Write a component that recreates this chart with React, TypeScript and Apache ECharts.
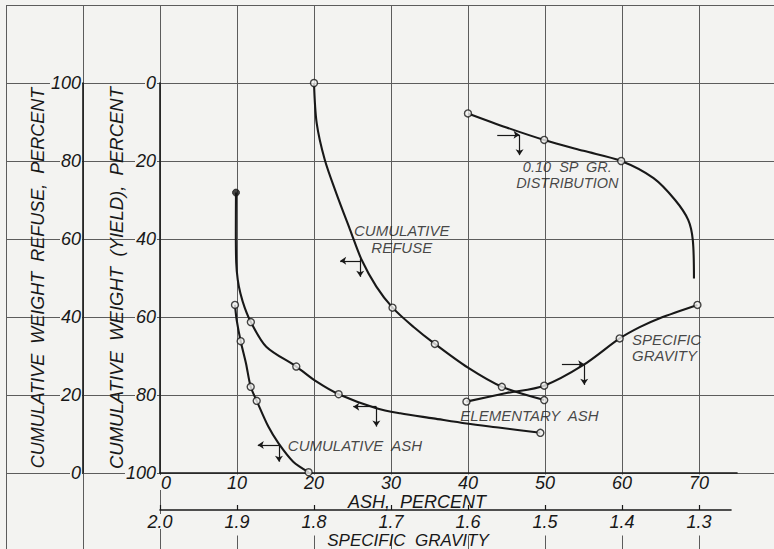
import React, { useEffect, useRef } from 'react';
import * as echarts from 'echarts';

// ---- tick labels ----
const ashTicks = [0, 10, 20, 30, 40, 50, 60, 70];
const sgTicks = [2.0, 1.9, 1.8, 1.7, 1.6, 1.5, 1.4, 1.3];

// ---- cumulative refuse (ash %, refuse %) ----
const refuseCurveAsh = [20.0, 20.35, 21.4, 22.9, 24.7, 26.2, 28.1, 30.2, 32.9, 35.7, 40.0, 44.4, 49.9];
const refuseCurveRefuse = [100, 89.7, 80.3, 71.7, 62.3, 54.6, 47.8, 42.4, 37.5, 33.1, 27.0, 22.1, 18.7];
const refusePointAsh = [20.0, 30.2, 35.7, 44.4, 49.9];
const refusePointRefuse = [100, 42.4, 33.1, 22.1, 18.7];

// ---- cumulative ash (ash %, yield %) ----
const cumAshCurveAsh = [9.74, 9.96, 10.48, 11.17, 11.78, 12.56, 14.07, 15.4, 17.3, 19.3];
const cumAshCurveYield = [56.9, 60.8, 66.2, 71.9, 77.9, 81.5, 88.1, 92.4, 97.1, 99.8];
const cumAshPointAsh = [9.74, 10.48, 11.78, 12.56, 19.3];
const cumAshPointYield = [56.9, 66.2, 77.9, 81.5, 99.8];

// ---- elementary ash (ash %, yield %) ----
const elemCurveAsh = [9.87, 9.85, 9.9, 10.1, 10.45, 11.0, 11.8, 13.8, 17.7, 20.35, 23.2, 28.1, 31.2, 35.5, 39.8, 44.2, 49.4];
const elemCurveYield = [28.1, 38.0, 46.0, 50.5, 54.0, 57.6, 61.3, 67.6, 72.7, 76.6, 79.8, 83.4, 84.7, 86.0, 87.3, 88.4, 89.7];
const elemPointAsh = [11.8, 17.7, 23.2, 49.4];
const elemPointYield = [61.3, 72.7, 79.8, 89.7];
const elemFirstPoint = [9.87, 28.1];

// ---- specific gravity curve (sp. gr., yield %) ----
const sgCurveSg = [1.602, 1.55, 1.501, 1.45, 1.403, 1.377, 1.351, 1.302];
const sgCurveYield = [81.7, 79.5, 77.6, 72.3, 65.5, 62.6, 60.3, 56.9];
const sgPointSg = [1.602, 1.501, 1.403, 1.302];
const sgPointYield = [81.7, 77.6, 65.5, 56.9];

// ---- 0.10 sp. gr. distribution (sp. gr., yield %) ----
const distCurveSg = [1.6, 1.55, 1.501, 1.45, 1.401, 1.359, 1.331, 1.314, 1.308, 1.3065];
const distCurveYield = [7.8, 11.4, 14.6, 17.4, 20.0, 24.4, 30.0, 35.1, 40.3, 50.1];
const distPointSg = [1.6, 1.501, 1.401];
const distPointYield = [7.8, 14.6, 20.0];

// ---- curve labels (text and anchor in ash / yield units) ----
const labelTexts = ['CUMULATIVE\nREFUSE', '0.10  SP  GR.\nDISTRIBUTION', 'SPECIFIC\nGRAVITY', 'ELEMENTARY  ASH', 'CUMULATIVE  ASH'];
const labelAsh = [31.4, 52.9, 61.3, 39.0, 16.6];
const labelYield = [40.0, 23.5, 67.9, 85.3, 93.0];

// ---- direction arrows: [ashFrom, yieldFrom, ashTo, yieldTo] ----
const arrowSegs = [
  [26.0, 45.6, 23.4, 45.6], [26.0, 45.1, 26.0, 49.7],
  [15.45, 92.8, 12.7, 92.8], [15.45, 92.8, 15.45, 97.1],
  [28.1, 83.0, 25.1, 83.0], [28.1, 83.0, 28.1, 88.1],
  [43.8, 13.3, 46.7, 13.3], [46.7, 13.3, 46.7, 18.5],
  [52.2, 72.1, 55.1, 72.1], [55.1, 72.1, 55.1, 77.4],
];

const zip = (a: number[], b: number[]) => a.map((v, i) => [v, b[i]]);

const PAPER = '#f3f3f1';
const INK = '#181818';
const GRIDC = '#5c5c5c';
const FONT = "'Liberation Sans', Arial, sans-serif";

export default function App() {
  const ref = useRef<HTMLDivElement>(null);
  useEffect(() => {
    if (!ref.current) return;
    const chart = echarts.init(ref.current, null, { renderer: 'svg' });
    const tickText = { fontFamily: FONT, fontSize: 18, fontStyle: 'italic' as const, color: INK };
    const openDot = { color: PAPER, borderColor: INK, borderWidth: 1.4 };
    const curveLine = { color: INK, width: 2.1 };
    const option: any = {
      animation: false,
      backgroundColor: PAPER,
      grid: [
        { left: 160, right: 37, top: 83, bottom: 76, outerBoundsMode: 'none', containLabel: false },
        { left: 160, right: 43, top: 83, bottom: 76, outerBoundsMode: 'none', containLabel: false },
        { left: 6, right: -2, top: 5, bottom: -2, outerBoundsMode: 'none', containLabel: false },
      ],
      xAxis: [
        {
          gridIndex: 0, type: 'value', min: 0, max: 74.94, interval: 10, position: 'bottom', z: 3,
          axisLine: { show: true, onZero: false, lineStyle: { color: INK, width: 1.6 } },
          axisTick: { show: false }, splitLine: { show: false },
          axisLabel: {
            ...tickText, margin: 2, lineHeight: 15, customValues: ashTicks, backgroundColor: PAPER, padding: [0, 1],
            alignMinLabel: 'left',
            formatter: (v: number) => (Math.abs(v - Math.round(v / 10) * 10) < 1e-6 ? String(Math.round(v)) : ''),
          },
          name: 'ASH,  PERCENT', nameLocation: 'middle', nameGap: 21, nameMoveOverlap: false,
          nameTextStyle: { ...tickText, lineHeight: 15, padding: [0, 63, 0, 0] },
        },
        {
          gridIndex: 1, type: 'value', min: 1.2584, max: 2.0, inverse: true, position: 'bottom', offset: 37, z: 3,
          axisLine: { show: true, onZero: false, lineStyle: { color: INK, width: 1.6 } },
          axisTick: { show: true, inside: true, length: 5, customValues: sgTicks, lineStyle: { color: INK, width: 1.2 } },
          splitLine: { show: false },
          axisLabel: {
            ...tickText, margin: 4, lineHeight: 15, customValues: sgTicks, backgroundColor: PAPER, padding: [0, 1],
            formatter: (v: number) => v.toFixed(1),
          },
          name: 'SPECIFIC  GRAVITY', nameLocation: 'middle', nameGap: 23, nameMoveOverlap: false,
          nameTextStyle: { ...tickText, fontSize: 17, lineHeight: 15, padding: [0, 75, 0, 0] },
        },
        {
          gridIndex: 2, type: 'value', min: -20, max: 80, interval: 10, z: 0,
          axisLine: { show: false }, axisTick: { show: false }, axisLabel: { show: false },
          splitLine: { show: true, lineStyle: { color: GRIDC, width: 1 } },
        },
      ],
      yAxis: [
        {
          gridIndex: 0, type: 'value', min: 0, max: 100, interval: 20, inverse: true, position: 'left', z: 3,
          axisLine: { show: true, onZero: false, lineStyle: { color: INK, width: 1.6 } },
          axisTick: { show: false }, splitLine: { show: false },
          axisLabel: { ...tickText, margin: 3, lineHeight: 15, backgroundColor: PAPER, padding: [0, 1] },
          name: 'CUMULATIVE  WEIGHT  (YIELD),  PERCENT', nameLocation: 'middle', nameRotate: 90, nameGap: 34,
          nameMoveOverlap: false,
          nameTextStyle: { ...tickText, fontSize: 18.5 },
        },
        {
          gridIndex: 0, type: 'value', min: 0, max: 100, interval: 20, position: 'left', offset: 77, z: 3,
          axisLine: { show: true, onZero: false, lineStyle: { color: INK, width: 1.6 } },
          axisTick: { show: false }, splitLine: { show: false },
          axisLabel: { ...tickText, margin: 1, lineHeight: 15, backgroundColor: PAPER, padding: [0, 1] },
          name: 'CUMULATIVE  WEIGHT  REFUSE,  PERCENT', nameLocation: 'middle', nameRotate: 90, nameGap: 36,
          nameMoveOverlap: false,
          nameTextStyle: { ...tickText },
        },
        { gridIndex: 1, type: 'value', min: 0, max: 100, inverse: true, show: false },
        {
          gridIndex: 2, type: 'value', min: -20, max: 120, interval: 20, inverse: true, z: 0,
          axisLine: { show: false }, axisTick: { show: false }, axisLabel: { show: false },
          splitLine: { show: true, lineStyle: { color: GRIDC, width: 1 } },
        },
      ],
      graphic: {
        elements: [
          { type: 'rect', z: 1, silent: true, shape: { x: 162, y: 474.5, width: 612, height: 61 }, style: { fill: PAPER } },
        ],
      },
      series: [
        {
          type: 'line', xAxisIndex: 0, yAxisIndex: 1, data: zip(refuseCurveAsh, refuseCurveRefuse),
          smooth: 0.3, symbol: 'none', lineStyle: curveLine, z: 4, silent: true,
        },
        {
          type: 'scatter', xAxisIndex: 0, yAxisIndex: 1, data: zip(refusePointAsh, refusePointRefuse),
          symbolSize: 7, itemStyle: openDot, z: 6, silent: true,
        },
        {
          type: 'line', xAxisIndex: 0, yAxisIndex: 0, data: zip(cumAshCurveAsh, cumAshCurveYield),
          smooth: 0.3, symbol: 'none', lineStyle: curveLine, z: 4, silent: true,
          markLine: {
            silent: true, symbol: ['none', 'arrow'], symbolSize: 6,
            lineStyle: { color: INK, width: 1.2, type: 'solid' }, label: { show: false },
            data: arrowSegs.map((s) => [{ coord: [s[0], s[1]] }, { coord: [s[2], s[3]] }]),
          },
        },
        {
          type: 'scatter', xAxisIndex: 0, yAxisIndex: 0, data: zip(cumAshPointAsh, cumAshPointYield),
          symbolSize: 7, itemStyle: openDot, z: 6, silent: true,
        },
        {
          type: 'line', xAxisIndex: 0, yAxisIndex: 0, data: zip(elemCurveAsh, elemCurveYield),
          smooth: 0.3, symbol: 'none', lineStyle: curveLine, z: 4, silent: true,
        },
        {
          type: 'scatter', xAxisIndex: 0, yAxisIndex: 0, data: zip(elemPointAsh, elemPointYield),
          symbolSize: 7, itemStyle: openDot, z: 6, silent: true,
        },
        {
          type: 'scatter', xAxisIndex: 0, yAxisIndex: 0, data: [elemFirstPoint],
          symbolSize: 7, itemStyle: { color: INK, borderColor: INK, borderWidth: 1 }, z: 6, silent: true,
        },
        {
          type: 'line', xAxisIndex: 1, yAxisIndex: 2, data: zip(sgCurveSg, sgCurveYield),
          smooth: 0.3, symbol: 'none', lineStyle: curveLine, z: 4, silent: true,
        },
        {
          type: 'scatter', xAxisIndex: 1, yAxisIndex: 2, data: zip(sgPointSg, sgPointYield),
          symbolSize: 7, itemStyle: openDot, z: 6, silent: true,
        },
        {
          type: 'line', xAxisIndex: 1, yAxisIndex: 2, data: zip(distCurveSg, distCurveYield),
          smooth: 0.3, symbol: 'none', lineStyle: curveLine, z: 4, silent: true,
        },
        {
          type: 'scatter', xAxisIndex: 1, yAxisIndex: 2, data: zip(distPointSg, distPointYield),
          symbolSize: 7, itemStyle: openDot, z: 6, silent: true,
        },
        {
          type: 'scatter', xAxisIndex: 0, yAxisIndex: 0, z: 7, silent: true,
          symbolSize: 1, itemStyle: { color: 'transparent' },
          data: labelTexts.map((t, i) => ({
            value: [labelAsh[i], labelYield[i]],
            label: {
              show: true, formatter: t, position: 'inside',
              align: i < 2 ? 'center' : 'left', verticalAlign: 'middle',
              lineHeight: i === 0 ? 16.6 : 16,
              fontFamily: FONT, fontSize: i === 1 ? 14.5 : 15, fontStyle: 'italic', color: INK,
            },
          })),
        },
      ],
    };
    chart.setOption(option);
    return () => chart.dispose();
  }, []);
  return <div ref={ref} style={{ position: 'absolute', left: 0, top: 0, width: 774, height: 549 }} />;
}
